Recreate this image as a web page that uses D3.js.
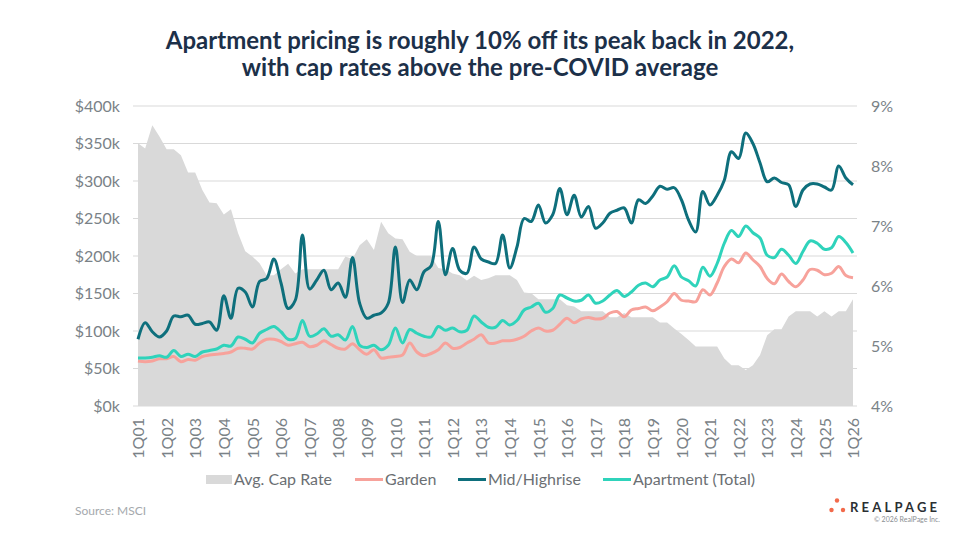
<!DOCTYPE html>
<html>
<head>
<meta charset="utf-8">
<script src="https://cdn.jsdelivr.net/npm/d3@7"></script>
<style>
  body { margin: 0; background: #fff; }
  svg { display: block; font-family: Lato, "Open Sans", sans-serif; }
</style>
</head>
<body>
<script>
// quarters 1Q01 .. 1Q26
const quarters = [];
for (let y = 2001; y <= 2026; y++) {
  for (let q = 1; q <= 4; q++) {
    if (y === 2026 && q > 1) break;
    quarters.push(q + "Q" + String(y % 100).padStart(2, "0"));
  }
}
const tickLabels = quarters.filter(d => d.startsWith("1Q"));

// Avg. cap rate (%), right axis
const capRate = [8.38, 8.29, 8.68, 8.49, 8.28, 8.28, 8.18, 7.89, 7.89, 7.6,
  7.39, 7.38, 7.19, 7.28, 6.88, 6.58, 6.49, 6.38, 6.18, 6.18,
  6.28, 6.37, 6.21, 6.28, 6.28, 6.28, 6.28, 6.28, 6.28, 6.49,
  6.45, 6.68, 6.78, 6.6, 7.07, 6.88, 6.79, 6.78, 6.57, 6.5,
  6.5, 6.5, 6.3, 6.28, 6.21, 6.18, 6.09, 6.17, 6.1, 6.13,
  6.18, 6.18, 6.18, 6.1, 5.89, 5.88, 5.78, 5.78, 5.78, 5.78,
  5.68, 5.66, 5.58, 5.58, 5.58, 5.58, 5.48, 5.48, 5.55, 5.48,
  5.48, 5.48, 5.48, 5.39, 5.39, 5.29, 5.2, 5.1, 4.99, 4.99,
  4.99, 4.99, 4.79, 4.68, 4.68, 4.6, 4.68, 4.85, 5.18, 5.28,
  5.28, 5.49, 5.58, 5.58, 5.58, 5.49, 5.58, 5.49, 5.58, 5.58,
  5.78];

// price per unit ($k), left axis
const garden = [60, 59, 60, 63, 63, 66, 59, 62, 61, 66,
  68, 69, 70, 72, 77, 77, 76, 84, 89, 89,
  86, 81, 83, 85, 79, 81, 87, 82, 77, 76,
  83, 75, 69, 75, 64, 65, 66, 68, 84, 72,
  67, 70, 75, 84, 77, 78, 84, 89, 95, 84,
  84, 87, 87, 89, 93, 100, 104, 100, 101, 109,
  117, 111, 116, 118, 116, 117, 124, 126, 119, 128,
  130, 132, 127, 132, 139, 150, 141, 140, 139, 155,
  148, 164, 186, 196, 191, 204, 195, 186, 170, 163,
  176, 166, 159, 168, 182, 181, 175, 177, 186, 174,
  171];

const midHigh = [89, 111, 99, 92, 100, 120, 119, 121, 109, 110,
  112, 101, 147, 117, 157, 152, 132, 166, 170, 196,
  164, 130, 141, 228, 156, 168, 181, 155, 164, 145,
  198, 137, 117, 121, 124, 137, 212, 138, 168, 155,
  179, 187, 246, 175, 210, 181, 177, 212, 196, 192,
  190, 228, 184, 212, 250, 246, 268, 244, 255, 290,
  255, 281, 252, 266, 237, 244, 257, 261, 264, 244,
  275, 270, 280, 293, 289, 291, 275, 248, 232, 286,
  268, 281, 301, 339, 330, 364, 350, 324, 299, 304,
  298, 295, 266, 288, 296, 296, 292, 288, 320, 304,
  295];

const aptTotal = [64, 64, 65, 67, 65, 74, 66, 69, 66, 72,
  74, 76, 81, 80, 92, 89, 84, 97, 102, 106,
  99, 89, 90, 114, 93, 96, 103, 93, 95, 88,
  106, 81, 78, 81, 75, 81, 104, 84, 102, 97,
  93, 92, 106, 101, 104, 99, 101, 120, 112, 105,
  105, 114, 108, 114, 128, 132, 137, 125, 130, 148,
  144, 140, 141, 148, 137, 140, 148, 154, 146, 152,
  161, 164, 159, 168, 172, 187, 172, 167, 160, 185,
  173, 190, 217, 234, 226, 240, 231, 224, 201, 198,
  209, 201, 190, 206, 220, 217, 209, 211, 226, 218,
  204];

const leftTicks = [0, 50, 100, 150, 200, 250, 300, 350, 400];
const rightTicks = [4, 5, 6, 7, 8, 9];

const colors = { cap: "#d9d9d9", garden: "#f7a29b", mid: "#0e6f7c", apt: "#2fd3bb" };

const width = 960, height = 540;
const svg = d3.select("body").append("svg").attr("width", width).attr("height", height);

const x = d3.scalePoint().domain(quarters).range([138, 853]);
const yL = d3.scaleLinear().domain([0, 400]).range([406, 106]);
const yR = d3.scaleLinear().domain([4, 9]).range([406, 106]);

// Title
const title = svg.append("text")
  .attr("x", 480).attr("y", 49)
  .attr("text-anchor", "middle")
  .attr("fill", "#1c3049")
  .style("font-size", "24px").style("font-weight", 700);
title.append("tspan").attr("x", 480).text("Apartment pricing is roughly 10% off its peak back in 2022,");
title.append("tspan").attr("x", 480).attr("dy", 27).text("with cap rates above the pre-COVID average");

// gridlines
svg.append("g").selectAll("line")
  .data(leftTicks).enter().append("line")
  .attr("x1", 133).attr("x2", 857)
  .attr("y1", d => yL(d)).attr("y2", d => yL(d))
  .attr("stroke", "#d9d9d9").attr("stroke-width", 1);

// cap rate area
const area = d3.area()
  .x((d, i) => x(quarters[i]))
  .y0(yR(4))
  .y1(d => yR(d));
svg.append("path").datum(capRate)
  .attr("d", area).attr("fill", colors.cap);

// lines
const line = d3.line()
  .x((d, i) => x(quarters[i]))
  .y(d => yL(d))
  .curve(d3.curveCatmullRom.alpha(0.5));

[[garden, colors.garden], [midHigh, colors.mid], [aptTotal, colors.apt]].forEach(s => {
  svg.append("path").datum(s[0])
    .attr("d", line)
    .attr("fill", "none")
    .attr("stroke", s[1])
    .attr("stroke-width", 3)
    .attr("stroke-linejoin", "round");
});

// left axis
const axL = svg.append("g").attr("transform", "translate(120,0)")
  .call(d3.axisLeft(yL).tickValues(leftTicks).tickSize(0).tickPadding(0).tickFormat(d => "$" + d + "k"));
axL.select(".domain").remove();

// right axis
const axR = svg.append("g").attr("transform", "translate(871,0)")
  .call(d3.axisRight(yR).tickValues(rightTicks).tickSize(0).tickPadding(0).tickFormat(d => d + "%"));
axR.select(".domain").remove();

// x axis
const axX = svg.append("g").attr("transform", "translate(0,412)")
  .call(d3.axisBottom(x).tickValues(tickLabels).tickSize(0).tickPadding(0));
axX.select(".domain").remove();
axX.selectAll("text")
  .attr("transform", "rotate(-90)")
  .attr("text-anchor", "end")
  .attr("x", -6).attr("y", 0).attr("dy", "0.35em");

svg.selectAll(".tick text")
  .attr("fill", "#7a8287")
  .style("font-size", "16px")
  .style("font-family", "Lato, sans-serif");

// legend
const legend = svg.append("g").style("font-size", "16px").attr("fill", "#6b6f73");
legend.append("rect").attr("x", 206).attr("y", 475).attr("width", 26).attr("height", 9).attr("fill", colors.cap);
legend.append("text").attr("x", 234).attr("y", 485).text("Avg. Cap Rate");
const items = [
  { name: "Garden", c: colors.garden, x: 355 },
  { name: "Mid/Highrise", c: colors.mid, x: 458 },
  { name: "Apartment (Total)", c: colors.apt, x: 603 }
];
items.forEach(it => {
  legend.append("line").attr("x1", it.x).attr("x2", it.x + 28)
    .attr("y1", 479.5).attr("y2", 479.5)
    .attr("stroke", it.c).attr("stroke-width", 3);
  legend.append("text").attr("x", it.x + 30).attr("y", 485).text(it.name);
});

// source
svg.append("text").attr("x", 75).attr("y", 515)
  .attr("fill", "#a5a9ad").style("font-size", "12px").text("Source: MSCI");

// logo
const logo = svg.append("g");
logo.append("circle").attr("cx", 837).attr("cy", 500.5).attr("r", 2.2).attr("fill", "#f26a4b");
logo.append("circle").attr("cx", 831.5).attr("cy", 510).attr("r", 2.2).attr("fill", "#f26a4b");
logo.append("circle").attr("cx", 843).attr("cy", 510).attr("r", 2.2).attr("fill", "#f26a4b");
logo.append("text").attr("x", 850).attr("y", 512)
  .attr("fill", "#2b2f33").style("font-size", "13px").style("font-weight", 700)
  .style("letter-spacing", "3.2px").text("REALPAGE");
logo.append("text").attr("x", 940).attr("y", 522).attr("text-anchor", "end")
  .attr("fill", "#8a8e92").style("font-size", "7px").text("© 2026 RealPage Inc.");
</script>
</body>
</html>
